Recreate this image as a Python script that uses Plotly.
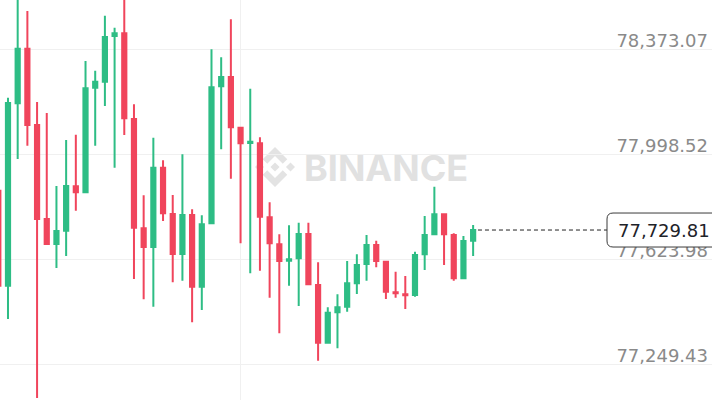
import plotly.graph_objects as go

# ---- data ----
candle_index = list(range(50))
open_ = [77869.7, 77531.5, 78180.9, 78375.2, 78103.6, 77769.0, 77680.0, 77727.3, 77885.4, 77864.0,
         78236.4, 78257.7, 78420.4, 78430.1, 78124.9, 77735.9, 77669.3, 77951.6, 77786.8, 77644.4,
         77783.2, 77527.9, 77753.7, 78241.4, 78274.5, 78094.0, 78039.5, 78038.5, 77775.0, 77678.9,
         77620.5, 77629.1, 77715.6, 77534.0, 77328.6, 77436.8, 77456.7, 77540.1, 77608.8, 77676.4,
         77616.9, 77508.0, 77500.9, 77498.4, 77643.3, 77714.5, 77785.7, 77712.0, 77557.9, 77691.7]
high = [77890.0, 78200.8, 78570.0, 78509.4, 78185.5, 78146.3, 77886.4, 78050.2, 78069.1, 78331.4,
        78296.9, 78492.7, 78450.0, 78560.0, 78177.3, 77853.3, 78058.4, 77977.9, 77854.4, 77999.3,
        77803.5, 77782.1, 78373.1, 78344.6, 78479.9, 78095.0, 78232.8, 78059.8, 77828.4, 77714.5,
        77746.5, 77755.8, 77755.8, 77614.8, 77454.6, 77500.9, 77619.4, 77643.3, 77712.0, 77691.7,
        77617.0, 77581.3, 77566.0, 77652.6, 77779.6, 77883.9, 77786.0, 77718.1, 77708.4, 77747.6]
low = [77516.2, 77413.0, 77982.6, 78029.9, 77131.7, 77679.0, 77594.5, 77637.2, 77798.5, 77862.0,
       78029.9, 78171.2, 77951.6, 78068.0, 77555.4, 77483.1, 77456.7, 77761.8, 77543.6, 77549.3,
       77401.2, 77445.0, 77752.0, 78017.1, 77912.4, 77682.5, 77575.6, 77584.9, 77488.8, 77362.1,
       77531.5, 77459.2, 77535.0, 77264.5, 77327.0, 77308.7, 77438.9, 77502.0, 77549.3, 77597.0,
       77484.2, 77488.8, 77448.6, 77492.3, 77587.4, 77713.0, 77605.2, 77549.3, 77557.0, 77637.2]
close = [77531.5, 78181.9, 78375.2, 78103.6, 77769.0, 77680.0, 77726.2, 77886.4, 77864.0, 78234.3,
         78257.7, 78416.9, 78430.1, 78127.5, 77738.0, 77669.3, 77951.6, 77789.3, 77644.4, 77783.2,
         77527.9, 77750.1, 78237.8, 78274.5, 78095.4, 78038.5, 78043.8, 77777.1, 77682.5, 77619.4,
         77625.5, 77715.6, 77536.5, 77328.6, 77435.4, 77454.6, 77540.1, 77605.2, 77676.4, 77619.4,
         77510.1, 77504.4, 77497.3, 77640.8, 77712.0, 77785.7, 77714.5, 77557.9, 77690.6, 77729.81]
price_ticks = [77249.43, 77623.98, 77998.52, 78373.07]
watermark_text = "BINANCE"

# ---- layout constants ----
W, H = 712, 400
UP, DOWN = "#2EBD85", "#F0455C"
x_range = [0.175, 73.65]
y_range = [77124.8, 78548.6]
LABEL_FONT = "DejaVu Sans"

fig = go.Figure()
fig.add_trace(go.Candlestick(
    x=candle_index, open=open_, high=high, low=low, close=close,
    increasing=dict(line=dict(color=UP, width=2), fillcolor=UP),
    decreasing=dict(line=dict(color=DOWN, width=2), fillcolor=DOWN),
    whiskerwidth=0, hoverinfo="skip", showlegend=False,
))

# Binance logo watermark (unit shape, mapped into paper coords)
logo_polys = [
    [(38.73, 53.2), (63.3, 28.63), (87.89, 53.22), (102.19, 38.92), (63.3, 0), (24.42, 38.9)],
    [(87.88, 73.39), (63.3, 97.97), (38.73, 73.4), (24.41, 87.69), (63.3, 126.61), (102.19, 87.72)],
    [(0, 63.3), (14.3, 49), (28.6, 63.3), (14.3, 77.6)],
    [(98, 63.3), (112.3, 49), (126.6, 63.3), (112.3, 77.6)],
    [(77.83, 63.3), (63.3, 48.76), (48.77, 63.28), (63.3, 77.83)],
]
cx, cy, sc = 275, 167, 40 / 126.6
for poly in logo_polys:
    pts = [((cx + (u - 63.3) * sc) / W, 1 - (cy + (v - 63.3) * sc) / H) for u, v in poly]
    path = "M " + " L ".join(f"{a:.5f},{b:.5f}" for a, b in pts) + " Z"
    fig.add_shape(type="path", path=path, xref="paper", yref="paper",
                  fillcolor="#E3E3E3", line=dict(width=0), layer="between")

fig.add_annotation(x=386 / W, y=1 - 168 / H, xref="paper", yref="paper",
                   text=watermark_text, showarrow=False,
                   font=dict(family="Inter", size=36, color="#E1E1E1", weight=700))

last = close[-1]
box_left_px = 607
x_box = x_range[0] + box_left_px / W * (x_range[1] - x_range[0])
fig.add_shape(type="line", xref="x", yref="y", x0=candle_index[-1] + 0.5, x1=x_box,
              y0=last, y1=last, line=dict(color="#222222", width=1, dash="4px,3px"),
              layer="above")

# rounded price box
r = 6
bw_l, bw_r, hh = box_left_px - W, 12, 17
path = (f"M {bw_l + r},{hh} L {bw_r},{hh} L {bw_r},{-hh} L {bw_l + r},{-hh} "
        f"Q {bw_l},{-hh} {bw_l},{-hh + r} L {bw_l},{hh - r} Q {bw_l},{hh} {bw_l + r},{hh} Z")
fig.add_shape(type="path", path=path, xref="paper", yref="y", xsizemode="pixel",
              ysizemode="pixel", xanchor=1, yanchor=last,
              fillcolor="white", line=dict(color="#3A3A3A", width=1), layer="above")
fig.add_annotation(x=1, y=last, xref="paper", yref="y", xanchor="right", xshift=0,
                   text=f"{last:,.2f}", showarrow=False,
                   font=dict(family=LABEL_FONT, size=18, color="#1E2329"))

fig.update_layout(
    width=W, height=H, margin=dict(l=0, r=0, t=0, b=0),
    paper_bgcolor="white", plot_bgcolor="white",
    boxgap=0.38, showlegend=False, hovermode=False,
    xaxis=dict(range=x_range, rangeslider=dict(visible=False), tickvals=[0, 25],
               showticklabels=False, showgrid=True, gridcolor="#F0F0F0", zeroline=False,
               ticks=""),
    yaxis=dict(range=y_range, side="right", tickvals=price_ticks, tickformat=",.2f",
               ticklabelposition="inside", ticklabelshift=-9, ticklabelstandoff=1,
               showgrid=True, gridcolor="#F0F0F0", zeroline=False, ticks="",
               tickfont=dict(family=LABEL_FONT, size=18, color="#8A8A8A")),
)

fig.write_html("out.html", config={"displayModeBar": False},
               post_script="document.body.style.margin='0';")
